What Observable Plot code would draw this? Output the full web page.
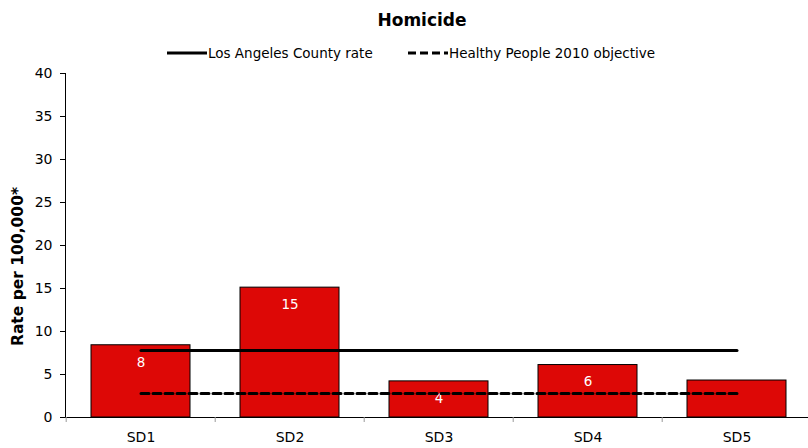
<!DOCTYPE html>
<html><head><meta charset="utf-8">
<script src="https://cdn.jsdelivr.net/npm/d3@7"></script>
<script src="https://cdn.jsdelivr.net/npm/@observablehq/plot@0.6"></script>
<style>
body{margin:0;background:#fff;font-family:"DejaVu Sans",Verdana,sans-serif;overflow:hidden}
#head{display:block}
</style></head><body>
<svg id="head" width="808" height="62"></svg>
<div id="chart"></div>
<script>
const title = "Homicide";
const yLabel = "Rate per 100,000*";
const categories = ["SD1", "SD2", "SD3", "SD4", "SD5"];
const rates = [8.4, 15.1, 4.2, 6.1, 4.3];
const barLabels = ["8", "15", "4", "6", ""];
const countyRate = 7.8;
const objective = 2.8;
const yTicks = [0, 5, 10, 15, 20, 25, 30, 35, 40];
const legendItems = ["Los Angeles County rate", "Healthy People 2010 objective"];

// header: title + legend
const head = d3.select("#head");
head.append("text").attr("x", 422).attr("y", 26).attr("text-anchor", "middle")
  .attr("font-weight", "bold").attr("font-size", 17).text(title);
const legPos = [167, 408];
const legDash = [null, "8,4"];
legendItems.forEach((t, i) => {
  head.append("line").attr("x1", legPos[i]).attr("x2", legPos[i] + 40)
    .attr("y1", 53).attr("y2", 53).attr("stroke", "#000").attr("stroke-width", 3)
    .attr("stroke-dasharray", legDash[i]);
  head.append("text").attr("x", legPos[i] + 41).attr("y", 57.5)
    .attr("font-size", 13.5).text(t);
});

const data = categories.map((c, i) => ({cat: c, rate: rates[i], label: barLabels[i]}));
const countyData = categories.map(c => ({cat: c, v: countyRate}));
const objData = categories.map(c => ({cat: c, v: objective}));
const x0 = 65, x1 = 813;
const step = (x1 - x0) / categories.length;

const chart = Plot.plot({
  width: 808, height: 386,
  marginLeft: 65, marginRight: 0, marginTop: 11, marginBottom: 31,
  style: {fontFamily: "DejaVu Sans, Verdana, sans-serif", fontSize: "14px", color: "#000", background: "#fff", overflow: "visible"},
  x: {domain: categories, range: [x0, x1], paddingInner: 0.335, paddingOuter: 0.1675, align: 0.5},
  y: {domain: [0, 40]},
  marks: [
    Plot.barY(data, {x: "cat", y: "rate", fill: "#dd0806", stroke: "#000", strokeWidth: 1}),
    Plot.text(data, {x: "cat", y: "rate", text: "label", dy: 17, fill: "white", fontSize: 13.5}),
    Plot.lineY(countyData, {x: "cat", y: "v", stroke: "#000", strokeWidth: 3}),
    Plot.lineY(objData, {x: "cat", y: "v", stroke: "#000", strokeWidth: 3, strokeDasharray: "8,4"}),
    Plot.ruleY([0], {stroke: "#000", strokeWidth: 1}),
    Plot.frame({anchor: "left", stroke: "#000"}),
    Plot.axisY({ticks: yTicks, tickSize: 5, tickPadding: 8, label: null, stroke: "#000", fontSize: 14}),
    Plot.axisX({tickSize: 5, dx: -step / 2, tickFormat: () => "", label: null, stroke: "#999"}),
    Plot.axisX({tickSize: 0, tickPadding: 15, label: null, fontSize: 14}),
    Plot.text([yLabel], {frameAnchor: "left", textAnchor: "middle", rotate: -90, dx: -47, dy: 21, fontWeight: "bold", fontSize: 15.5})
  ]
});
document.getElementById("chart").append(chart);
</script>
</body></html>
